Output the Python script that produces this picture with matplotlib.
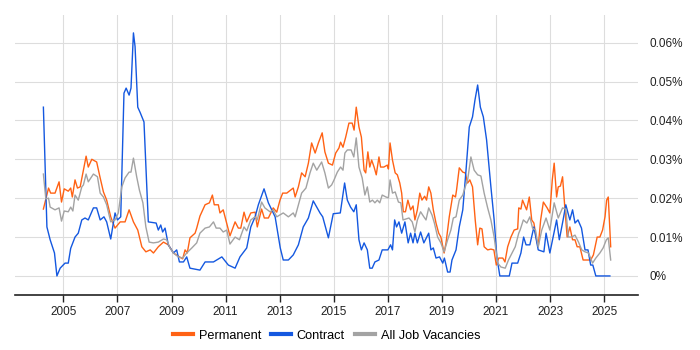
import matplotlib
matplotlib.use("Agg")
import matplotlib.pyplot as plt

# -----------------------------
# Data (share of job ads, in %)
# -----------------------------
perm_years = [2004.26, 2004.35, 2004.45, 2004.53, 2004.69, 2004.84, 2004.93, 2005.03, 2005.18, 2005.27,
              2005.33, 2005.43, 2005.52, 2005.62, 2005.72, 2005.84, 2005.92, 2006.05, 2006.23, 2006.36,
              2006.48, 2006.60, 2006.75, 2006.91, 2007.10, 2007.28, 2007.43, 2007.59, 2007.75, 2007.90,
              2008.05, 2008.21, 2008.33, 2008.51, 2008.70, 2008.88, 2009.07, 2009.29, 2009.41, 2009.50,
              2009.58, 2009.68, 2009.87, 2009.93, 2010.05, 2010.24, 2010.40, 2010.51, 2010.58, 2010.73,
              2010.79, 2010.91, 2011.16, 2011.35, 2011.47, 2011.56, 2011.68, 2011.78, 2011.93, 2012.09,
              2012.17, 2012.33, 2012.43, 2012.58, 2012.76, 2012.89, 2013.01, 2013.11, 2013.26, 2013.50,
              2013.57, 2013.69, 2013.81, 2013.94, 2014.06, 2014.18, 2014.31, 2014.43, 2014.57, 2014.67,
              2014.80, 2014.95, 2015.07, 2015.19, 2015.25, 2015.34, 2015.44, 2015.56, 2015.68, 2015.75,
              2015.83, 2015.93, 2016.02, 2016.12, 2016.18, 2016.26, 2016.33, 2016.40, 2016.49, 2016.57,
              2016.67, 2016.73, 2016.85, 2016.98, 2017.02, 2017.08, 2017.17, 2017.27, 2017.35, 2017.44,
              2017.51, 2017.57, 2017.65, 2017.74, 2017.84, 2017.93, 2018.00, 2018.09, 2018.18, 2018.26,
              2018.36, 2018.43, 2018.51, 2018.59, 2018.68, 2018.78, 2018.88, 2018.96, 2019.08, 2019.15,
              2019.27, 2019.40, 2019.50, 2019.54, 2019.64, 2019.77, 2019.86, 2019.95, 2020.03, 2020.13,
              2020.23, 2020.32, 2020.40, 2020.48, 2020.56, 2020.69, 2020.81, 2020.92, 2021.01, 2021.10,
              2021.25, 2021.33, 2021.43, 2021.55, 2021.67, 2021.80, 2021.84, 2021.92, 2021.98, 2022.13,
              2022.23, 2022.32, 2022.40, 2022.50, 2022.56, 2022.65, 2022.75, 2022.89, 2022.99, 2023.08,
              2023.15, 2023.24, 2023.30, 2023.38, 2023.46, 2023.55, 2023.63, 2023.73, 2023.83, 2023.92,
              2024.00, 2024.10, 2024.22, 2024.50, 2024.60, 2024.74, 2024.84, 2024.94, 2025.03, 2025.09,
              2025.15, 2025.24]
perm_vals = [0.0172, 0.0198, 0.0226, 0.0213, 0.0213, 0.0242, 0.0190, 0.0224, 0.0218, 0.0226,
             0.0203, 0.0247, 0.0226, 0.0229, 0.0265, 0.0308, 0.0280, 0.0300, 0.0293, 0.0252,
             0.0216, 0.0195, 0.0152, 0.0123, 0.0139, 0.0139, 0.0170, 0.0139, 0.0118, 0.0075,
             0.0062, 0.0067, 0.0059, 0.0075, 0.0087, 0.0080, 0.0059, 0.0049, 0.0044, 0.0067,
             0.0059, 0.0098, 0.0110, 0.0123, 0.0154, 0.0183, 0.0188, 0.0208, 0.0183, 0.0183,
             0.0162, 0.0170, 0.0103, 0.0139, 0.0123, 0.0123, 0.0164, 0.0139, 0.0162, 0.0164,
             0.0126, 0.0172, 0.0149, 0.0149, 0.0175, 0.0164, 0.0195, 0.0213, 0.0213, 0.0226,
             0.0203, 0.0229, 0.0265, 0.0255, 0.0290, 0.0342, 0.0316, 0.0342, 0.0368, 0.0319,
             0.0290, 0.0285, 0.0316, 0.0329, 0.0344, 0.0331, 0.0357, 0.0393, 0.0393, 0.0375,
             0.0434, 0.0383, 0.0357, 0.0272, 0.0265, 0.0319, 0.0280, 0.0298, 0.0280, 0.0260,
             0.0306, 0.0280, 0.0280, 0.0285, 0.0275, 0.0342, 0.0298, 0.0265, 0.0260, 0.0239,
             0.0213, 0.0165, 0.0165, 0.0195, 0.0170, 0.0180, 0.0144, 0.0170, 0.0213, 0.0195,
             0.0205, 0.0195, 0.0229, 0.0213, 0.0170, 0.0136, 0.0110, 0.0100, 0.0059, 0.0085,
             0.0152, 0.0208, 0.0203, 0.0221, 0.0278, 0.0267, 0.0265, 0.0239, 0.0247, 0.0229,
             0.0144, 0.0080, 0.0123, 0.0121, 0.0075, 0.0067, 0.0069, 0.0067, 0.0028, 0.0046,
             0.0046, 0.0036, 0.0075, 0.0100, 0.0118, 0.0121, 0.0175, 0.0172, 0.0195, 0.0170,
             0.0203, 0.0144, 0.0136, 0.0093, 0.0075, 0.0144, 0.0190, 0.0175, 0.0162, 0.0247,
             0.0290, 0.0203, 0.0229, 0.0231, 0.0255, 0.0170, 0.0100, 0.0126, 0.0093, 0.0093,
             0.0075, 0.0075, 0.0041, 0.0041, 0.0054, 0.0100, 0.0100, 0.0118, 0.0152, 0.0195,
             0.0203, 0.0075]

contract_years = [2004.26, 2004.39, 2004.51, 2004.67, 2004.76, 2004.88, 2005.06, 2005.18, 2005.27, 2005.43,
                  2005.55, 2005.68, 2005.80, 2005.92, 2006.11, 2006.23, 2006.36, 2006.50, 2006.60, 2006.75,
                  2006.91, 2007.00, 2007.12, 2007.24, 2007.32, 2007.43, 2007.50, 2007.59, 2007.65, 2007.75,
                  2007.84, 2007.98, 2008.14, 2008.43, 2008.51, 2008.60, 2008.67, 2008.76, 2008.88, 2009.07,
                  2009.19, 2009.29, 2009.44, 2009.56, 2009.68, 2010.05, 2010.24, 2010.55, 2010.86, 2011.10,
                  2011.35, 2011.53, 2011.78, 2011.93, 2012.09, 2012.21, 2012.42, 2012.58, 2012.83, 2013.02,
                  2013.13, 2013.32, 2013.50, 2013.69, 2013.87, 2014.06, 2014.24, 2014.49, 2014.59, 2014.80,
                  2014.98, 2015.24, 2015.40, 2015.50, 2015.62, 2015.74, 2015.83, 2015.93, 2016.02, 2016.12,
                  2016.24, 2016.33, 2016.42, 2016.52, 2016.67, 2016.79, 2017.00, 2017.10, 2017.17, 2017.25,
                  2017.32, 2017.41, 2017.51, 2017.63, 2017.75, 2017.84, 2017.93, 2018.00, 2018.09, 2018.21,
                  2018.33, 2018.51, 2018.59, 2018.68, 2018.78, 2018.91, 2019.03, 2019.09, 2019.21, 2019.30,
                  2019.37, 2019.52, 2019.64, 2019.77, 2019.89, 2020.01, 2020.13, 2020.22, 2020.32, 2020.42,
                  2020.53, 2020.65, 2020.81, 2020.93, 2021.03, 2021.14, 2021.49, 2021.59, 2021.80, 2021.92,
                  2022.02, 2022.11, 2022.25, 2022.40, 2022.56, 2022.77, 2022.85, 2022.99, 2023.11, 2023.24,
                  2023.34, 2023.48, 2023.58, 2023.73, 2023.83, 2023.92, 2024.03, 2024.16, 2024.29, 2024.40,
                  2024.50, 2024.58, 2024.69, 2025.21]
contract_vals = [0.0434, 0.0126, 0.0093, 0.0059, 0.0000, 0.0020, 0.0033, 0.0033, 0.0071, 0.0100,
                 0.0110, 0.0144, 0.0149, 0.0144, 0.0175, 0.0175, 0.0144, 0.0152, 0.0139, 0.0095,
                 0.0162, 0.0144, 0.0152, 0.0470, 0.0483, 0.0465, 0.0483, 0.0625, 0.0590, 0.0434,
                 0.0420, 0.0396, 0.0139, 0.0136, 0.0118, 0.0131, 0.0113, 0.0123, 0.0080, 0.0059,
                 0.0067, 0.0036, 0.0036, 0.0049, 0.0020, 0.0015, 0.0036, 0.0036, 0.0049, 0.0028,
                 0.0020, 0.0049, 0.0072, 0.0126, 0.0152, 0.0183, 0.0224, 0.0188, 0.0152, 0.0072,
                 0.0041, 0.0041, 0.0054, 0.0080, 0.0126, 0.0149, 0.0193, 0.0162, 0.0152, 0.0098,
                 0.0160, 0.0162, 0.0239, 0.0195, 0.0177, 0.0165, 0.0183, 0.0093, 0.0067, 0.0085,
                 0.0067, 0.0020, 0.0020, 0.0036, 0.0041, 0.0067, 0.0067, 0.0080, 0.0067, 0.0144,
                 0.0126, 0.0139, 0.0110, 0.0139, 0.0085, 0.0110, 0.0085, 0.0110, 0.0085, 0.0113,
                 0.0085, 0.0110, 0.0067, 0.0072, 0.0046, 0.0049, 0.0033, 0.0046, 0.0010, 0.0010,
                 0.0041, 0.0067, 0.0126, 0.0170, 0.0272, 0.0383, 0.0409, 0.0452, 0.0491, 0.0434,
                 0.0409, 0.0350, 0.0229, 0.0144, 0.0049, 0.0000, 0.0000, 0.0033, 0.0033, 0.0059,
                 0.0100, 0.0080, 0.0080, 0.0126, 0.0067, 0.0062, 0.0110, 0.0059, 0.0100, 0.0144,
                 0.0093, 0.0144, 0.0183, 0.0144, 0.0170, 0.0136, 0.0144, 0.0123, 0.0067, 0.0067,
                 0.0028, 0.0028, 0.0000, 0.0000]

all_years = [2004.26, 2004.35, 2004.45, 2004.51, 2004.69, 2004.84, 2004.93, 2005.03, 2005.18, 2005.27,
             2005.35, 2005.43, 2005.55, 2005.68, 2005.74, 2005.84, 2005.92, 2006.11, 2006.26, 2006.36,
             2006.48, 2006.60, 2006.75, 2006.91, 2007.03, 2007.16, 2007.28, 2007.43, 2007.50, 2007.59,
             2007.71, 2007.81, 2007.94, 2008.05, 2008.17, 2008.33, 2008.51, 2008.70, 2008.82, 2008.94,
             2009.07, 2009.25, 2009.41, 2009.56, 2009.75, 2009.93, 2010.05, 2010.24, 2010.40, 2010.55,
             2010.65, 2010.79, 2010.91, 2011.04, 2011.16, 2011.35, 2011.51, 2011.68, 2011.78, 2011.93,
             2012.09, 2012.17, 2012.33, 2012.45, 2012.64, 2012.76, 2012.89, 2013.01, 2013.13, 2013.32,
             2013.50, 2013.57, 2013.69, 2013.81, 2013.97, 2014.12, 2014.24, 2014.37, 2014.55, 2014.67,
             2014.80, 2014.92, 2015.01, 2015.13, 2015.25, 2015.34, 2015.41, 2015.50, 2015.64, 2015.74,
             2015.83, 2015.93, 2016.05, 2016.15, 2016.24, 2016.33, 2016.43, 2016.52, 2016.61, 2016.70,
             2016.79, 2016.93, 2017.02, 2017.08, 2017.17, 2017.27, 2017.39, 2017.48, 2017.56, 2017.65,
             2017.78, 2017.90, 2018.00, 2018.09, 2018.21, 2018.33, 2018.41, 2018.51, 2018.63, 2018.72,
             2018.84, 2018.96, 2019.08, 2019.21, 2019.33, 2019.42, 2019.52, 2019.64, 2019.77, 2019.86,
             2019.95, 2020.07, 2020.19, 2020.32, 2020.44, 2020.56, 2020.69, 2020.81, 2020.93, 2021.06,
             2021.18, 2021.34, 2021.46, 2021.59, 2021.71, 2021.84, 2021.89, 2022.01, 2022.14, 2022.25,
             2022.35, 2022.46, 2022.56, 2022.69, 2022.85, 2022.99, 2023.15, 2023.30, 2023.46, 2023.58,
             2023.67, 2023.80, 2023.92, 2024.05, 2024.17, 2024.29, 2024.42, 2024.57, 2024.69, 2024.84,
             2024.96, 2025.08, 2025.15, 2025.24]
all_vals = [0.0262, 0.0198, 0.0200, 0.0177, 0.0170, 0.0175, 0.0141, 0.0167, 0.0165, 0.0177,
            0.0167, 0.0208, 0.0195, 0.0229, 0.0234, 0.0262, 0.0242, 0.0262, 0.0255, 0.0213,
            0.0203, 0.0183, 0.0139, 0.0144, 0.0162, 0.0229, 0.0252, 0.0267, 0.0267, 0.0303,
            0.0255, 0.0221, 0.0188, 0.0126, 0.0087, 0.0085, 0.0087, 0.0095, 0.0093, 0.0072,
            0.0059, 0.0049, 0.0046, 0.0059, 0.0072, 0.0085, 0.0110, 0.0123, 0.0126, 0.0139,
            0.0123, 0.0123, 0.0113, 0.0118, 0.0082, 0.0100, 0.0093, 0.0126, 0.0116, 0.0144,
            0.0152, 0.0144, 0.0190, 0.0175, 0.0165, 0.0170, 0.0152, 0.0157, 0.0162, 0.0152,
            0.0162, 0.0152, 0.0183, 0.0213, 0.0226, 0.0265, 0.0290, 0.0272, 0.0293, 0.0265,
            0.0226, 0.0234, 0.0247, 0.0267, 0.0280, 0.0272, 0.0316, 0.0324, 0.0324, 0.0306,
            0.0355, 0.0280, 0.0252, 0.0208, 0.0229, 0.0190, 0.0195, 0.0188, 0.0195, 0.0188,
            0.0208, 0.0203, 0.0201, 0.0247, 0.0213, 0.0216, 0.0190, 0.0188, 0.0144, 0.0146,
            0.0149, 0.0139, 0.0113, 0.0144, 0.0165, 0.0152, 0.0144, 0.0175, 0.0157, 0.0136,
            0.0100, 0.0085, 0.0062, 0.0093, 0.0118, 0.0149, 0.0152, 0.0195, 0.0208, 0.0229,
            0.0247, 0.0306, 0.0272, 0.0260, 0.0257, 0.0213, 0.0175, 0.0144, 0.0100, 0.0033,
            0.0023, 0.0020, 0.0041, 0.0059, 0.0075, 0.0110, 0.0118, 0.0144, 0.0136, 0.0152,
            0.0123, 0.0118, 0.0075, 0.0118, 0.0149, 0.0118, 0.0188, 0.0149, 0.0175, 0.0172,
            0.0100, 0.0100, 0.0105, 0.0087, 0.0067, 0.0062, 0.0059, 0.0033, 0.0046, 0.0059,
            0.0072, 0.0093, 0.0098, 0.0041]

year_ticks = [2005, 2007, 2009, 2011, 2013, 2015, 2017, 2019, 2021, 2023, 2025]
pct_ticks = [0, 0.01, 0.02, 0.03, 0.04, 0.05, 0.06]
pct_labels = ["0%", "0.01%", "0.02%", "0.03%", "0.04%", "0.05%", "0.06%"]

# -----------------------------
# Figure
# -----------------------------
plt.rcParams['font.family'] = ['Liberation Sans', 'DejaVu Sans']

fig = plt.figure(figsize=(7, 3.5), dpi=100)
ax = fig.add_axes([15 / 700, 1 - 295 / 350, 623 / 700, 280 / 350])

ax.plot(perm_years, perm_vals, color="#ff6214", lw=1.0, label="Permanent", zorder=3)
ax.plot(contract_years, contract_vals, color="#1458e0", lw=1.0, label="Contract", zorder=3)
ax.plot(all_years, all_vals, color="#a3a3a3", lw=1.0, label="All Job Vacancies", zorder=3)

ax.set_xlim(2003.21, 2026.25)
ax.set_ylim(-0.0049, 0.0671)

ax.set_xticks(year_ticks)
ax.set_xticklabels([str(y) for y in year_ticks], fontsize=8.5, color="#222222")
ax.set_yticks(pct_ticks)
ax.set_yticklabels(pct_labels, fontsize=8.5, color="#222222")
ax.yaxis.tick_right()
ax.tick_params(axis="y", length=0, pad=8)
ax.tick_params(axis="x", length=5, width=1, color="#222222", pad=3)

ax.grid(True, color="#dddddd", lw=0.8)
ax.set_axisbelow(True)

for side in ["top", "left", "right"]:
    ax.spines[side].set_visible(False)
ax.spines["bottom"].set_color("#222222")
ax.spines["bottom"].set_linewidth(1.2)

leg = ax.legend(loc="center", bbox_to_anchor=(0.5, -0.145), ncol=3, frameon=False,
                fontsize=9.2, handlelength=1.55, handletextpad=0.45, columnspacing=0.8)
for line in leg.get_lines():
    line.set_linewidth(3)

fig.savefig("out.png", dpi=100)
